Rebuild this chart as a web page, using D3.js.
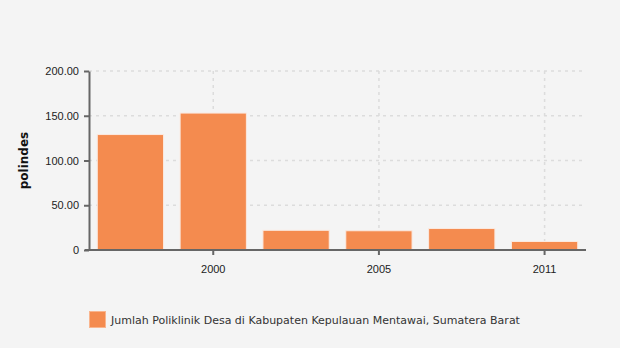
<!DOCTYPE html>
<html>
<head>
<meta charset="utf-8">
<script src="https://cdn.jsdelivr.net/npm/d3@7"></script>
<style>
  body { margin: 0; background: #f4f4f4; }
  svg { font-family: "DejaVu Sans", Verdana, sans-serif; }
</style>
</head>
<body>
<div id="chart"></div>
<script>
// chart data
var years = ["1996", "2000", "2003", "2005", "2008", "2011"];
var shownYears = ["2000", "2005", "2011"];
var polindes = [129, 153, 22, 21.5, 24, 9.5];
var yTicks = [0, 50, 100, 150, 200];
var seriesName = "Jumlah Poliklinik Desa di Kabupaten Kepulauan Mentawai, Sumatera Barat";

var svgWidth = 620;
var svgHeight = 348;

var margin = { top: 71, right: 34, bottom: 98, left: 89 };
var width = svgWidth - margin.left - margin.right;
var height = svgHeight - margin.top - margin.bottom;

var svg = d3.select("#chart")
  .append("svg")
  .attr("width", svgWidth)
  .attr("height", svgHeight);

svg.append("rect")
  .attr("width", svgWidth)
  .attr("height", svgHeight)
  .attr("fill", "#f4f4f4");

var chartGroup = svg.append("g")
  .attr("transform", `translate(${margin.left}, ${margin.top})`);

var xScale = d3.scaleBand()
  .domain(years)
  .range([0, width])
  .paddingInner(0.2)
  .paddingOuter(0.1);

var yScale = d3.scaleLinear()
  .domain([0, 200])
  .range([height, 0]);

// gridlines
chartGroup.append("g")
  .selectAll("line")
  .data(yTicks.slice(1))
  .enter()
  .append("line")
  .attr("x1", 0)
  .attr("x2", width)
  .attr("y1", d => yScale(d))
  .attr("y2", d => yScale(d))
  .attr("stroke", "#dcdcdc")
  .attr("stroke-width", 1.5)
  .attr("stroke-dasharray", "3,4");

chartGroup.append("g")
  .selectAll("line")
  .data(shownYears)
  .enter()
  .append("line")
  .attr("x1", d => xScale(d) + xScale.bandwidth() / 2)
  .attr("x2", d => xScale(d) + xScale.bandwidth() / 2)
  .attr("y1", 0)
  .attr("y2", height)
  .attr("stroke", "#dcdcdc")
  .attr("stroke-width", 1.5)
  .attr("stroke-dasharray", "3,4");

// bars
chartGroup.selectAll(".bar")
  .data(polindes)
  .enter()
  .append("rect")
  .attr("class", "bar")
  .attr("x", (d, i) => xScale(years[i]))
  .attr("y", d => yScale(d))
  .attr("width", xScale.bandwidth())
  .attr("height", d => height - yScale(d))
  .attr("fill", "#f48b4f")
  .attr("stroke", "#fbe9df")
  .attr("stroke-width", 1);

// axes
var bottomAxis = d3.axisBottom(xScale)
  .tickValues(shownYears)
  .tickSize(5)
  .tickSizeOuter(0);

var leftAxis = d3.axisLeft(yScale)
  .tickValues(yTicks)
  .tickSize(5)
  .tickSizeOuter(0)
  .tickFormat(d => d === 0 ? "0" : d.toFixed(2));

var xAxisG = chartGroup.append("g")
  .attr("transform", `translate(0, ${height})`)
  .call(bottomAxis);
xAxisG.select(".domain").attr("stroke", "#666").attr("stroke-width", 2).attr("d", `M-4,0H${width}`);
xAxisG.selectAll(".tick line").attr("stroke", "#666").attr("stroke-width", 2);
xAxisG.selectAll(".tick text")
  .attr("y", 15)
  .attr("fill", "#222")
  .style("font-size", "11px");

var yAxisG = chartGroup.append("g")
  .call(leftAxis);
yAxisG.select(".domain").attr("stroke", "#666").attr("stroke-width", 2);
yAxisG.selectAll(".tick line").attr("stroke", "#666").attr("stroke-width", 2);
yAxisG.selectAll(".tick text")
  .attr("x", -10)
  .attr("fill", "#222")
  .style("font-size", "11px");

// y label
chartGroup.append("text")
  .attr("transform", "rotate(-90)")
  .attr("x", 0 - (height / 2))
  .attr("y", -61)
  .attr("text-anchor", "middle")
  .style("font-size", "12px")
  .style("font-weight", "bold")
  .attr("fill", "#111")
  .text("polindes");

// legend
var legend = svg.append("g")
  .attr("transform", "translate(89, 311)");

legend.append("rect")
  .attr("x", 0.5)
  .attr("y", 0.5)
  .attr("width", 16)
  .attr("height", 16)
  .attr("fill", "#f48b4f")
  .attr("stroke", "#f9b58e");

legend.append("text")
  .attr("x", 22)
  .attr("y", 13)
  .attr("fill", "#333")
  .style("font-size", "11px")
  .text(seriesName);
</script>
</body>
</html>
